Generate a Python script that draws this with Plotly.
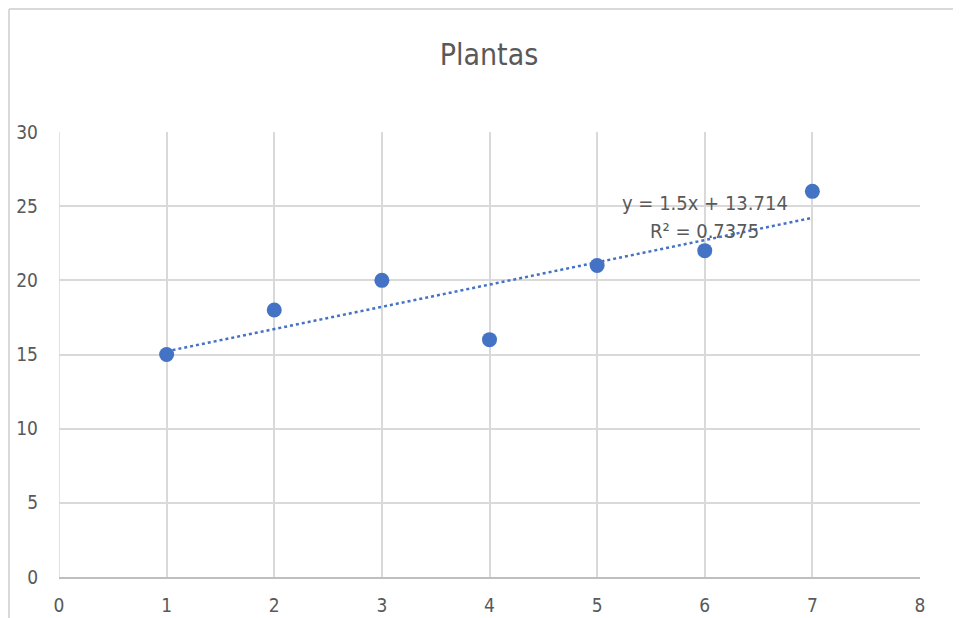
import numpy as np
import plotly.graph_objects as go

x_vals = [1, 2, 3, 4, 5, 6, 7]
y_vals = [15, 18, 20, 16, 21, 22, 26]
title_text = "Plantas"
x_ticks = [0, 1, 2, 3, 4, 5, 6, 7, 8]
y_ticks = [0, 5, 10, 15, 20, 25, 30]

slope, intercept = np.polyfit(x_vals, y_vals, 1)
pred = np.polyval([slope, intercept], x_vals)
ss_res = np.sum((np.array(y_vals) - pred) ** 2)
ss_tot = np.sum((np.array(y_vals) - np.mean(y_vals)) ** 2)
r2 = 1 - ss_res / ss_tot
trend_x = [min(x_vals), max(x_vals)]
trend_y = list(np.polyval([slope, intercept], trend_x))

W, H = 961, 618
OFF = 8  # page body margin
L, R, T, B = 59 - OFF, 49, 132 - OFF, 49
pw, ph = W - L - R, H - T - B

FONT = "DejaVu Sans Condensed, Open Sans, sans-serif"
GREY = "#595959"
BLUE = "#4472C4"

fig = go.Figure()
fig.add_trace(go.Scatter(x=trend_x, y=trend_y, mode="lines",
                         line=dict(color=BLUE, width=2.5, dash="dot"),
                         hoverinfo="skip", showlegend=False))
fig.add_trace(go.Scatter(x=x_vals, y=y_vals, mode="markers",
                         marker=dict(color=BLUE, size=15),
                         showlegend=False))

def px_x(p):
    return (p - OFF - L) / pw

def px_y(p):
    return 1 - (p - OFF - T) / ph

shapes = [
    dict(type="line", xref="paper", yref="paper", x0=px_x(9), x1=px_x(W + 20), y0=px_y(9), y1=px_y(9),
         line=dict(color="#d9d9d9", width=2)),
    dict(type="line", xref="paper", yref="paper", x0=px_x(9), x1=px_x(9), y0=px_y(9), y1=px_y(H + 20),
         line=dict(color="#d9d9d9", width=2)),
]

annotations = [
    dict(text=f"y = {slope:.1f}x + {intercept:.3f}", x=6.0, y=25.2, xref="x", yref="y",
         showarrow=False, font=dict(family=FONT, size=20, color=GREY), xanchor="center"),
    dict(text=f"R² = {r2:.4f}", x=6.0, y=23.3, xref="x", yref="y",
         showarrow=False, font=dict(family=FONT, size=20, color=GREY), xanchor="center"),
]

fig.update_layout(
    width=W, height=H,
    margin=dict(l=L, r=R, t=T, b=B, autoexpand=False),
    paper_bgcolor="white", plot_bgcolor="white",
    title=dict(text=title_text, x=(489 - OFF) / W, xanchor="center", y=1 - (54 - OFF) / H, yanchor="middle",
               font=dict(family=FONT, size=30, color=GREY)),
    xaxis=dict(range=[0, 8], tickvals=x_ticks, showgrid=True, gridcolor="#d9d9d9", gridwidth=1.5,
               zeroline=False, showline=True, linecolor="#bfbfbf", linewidth=2,
               tickfont=dict(family=FONT, size=19, color=GREY), ticks="", ticklen=0,
               ticklabelstandoff=10, automargin=False, fixedrange=True),
    yaxis=dict(range=[0, 30], tickvals=y_ticks, showgrid=True, gridcolor="#d9d9d9", gridwidth=1.5,
               zeroline=False, showline=False,
               tickfont=dict(family=FONT, size=19, color=GREY), ticks="", ticklen=0,
               ticklabelstandoff=20, automargin=False, fixedrange=True),
    shapes=shapes,
    annotations=annotations,
)
fig.add_shape(type="line", xref="x", yref="y", x0=0, x1=0, y0=0, y1=30,
              line=dict(color="#d9d9d9", width=1.5), layer="below")

fig.write_html("out.html")
